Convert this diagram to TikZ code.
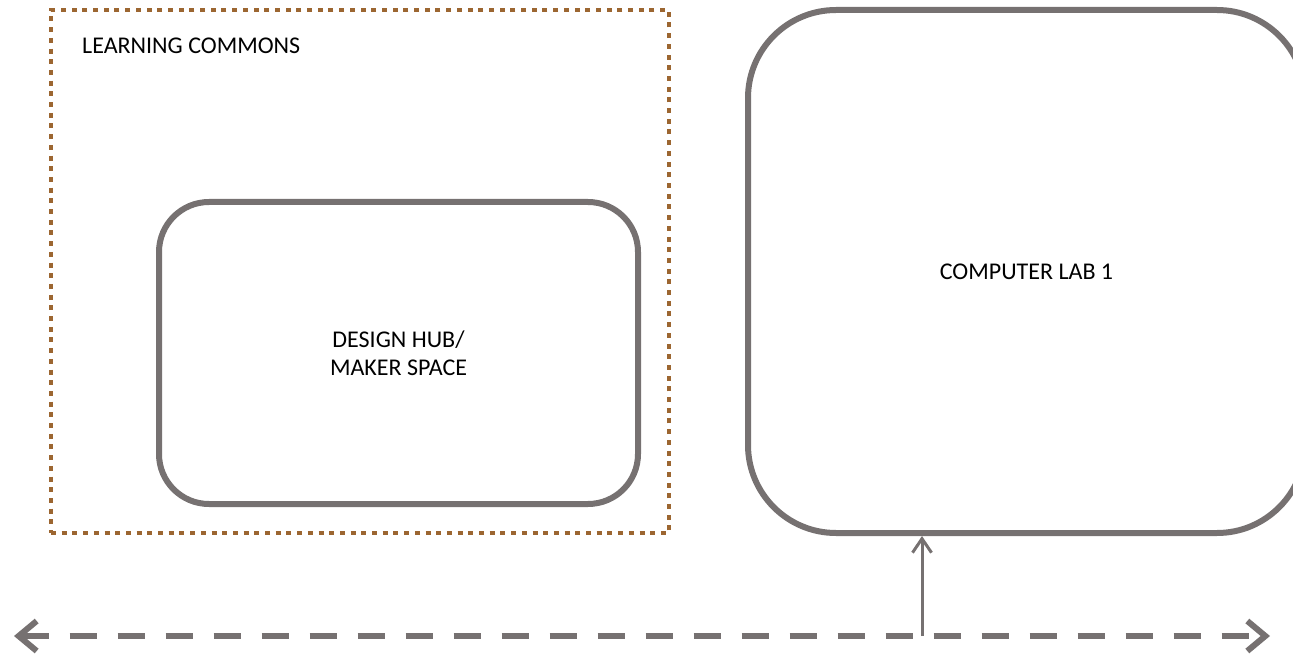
\documentclass[tikz,border=0pt]{standalone}
\usepackage{fontspec}
\setmainfont{Carlito}
\usetikzlibrary{arrows.meta}
\definecolor{roomgray}{HTML}{767171}
\definecolor{zonebrown}{HTML}{9C6631}
\tikzset{
  roombox/.style={draw=roomgray, line width=6pt, fill=white, align=center, inner sep=0pt, font=\fontsize{24}{28}\selectfont},
  zonebox/.style={draw=zonebrown, line width=4pt, dash pattern=on 5pt off 5.7pt, inner sep=0pt},
  lbl/.style={font=\fontsize{24}{28}\selectfont, inner sep=0pt},
  corridor/.style={draw=roomgray, line width=6pt, dash pattern=on 27pt off 21pt, {Straight Barb[length=18pt,width=30pt,line width=6pt]}-{Straight Barb[length=18pt,width=30pt,line width=6pt]}},
  access/.style={draw=roomgray, line width=3pt, -{Straight Barb[length=14pt,width=19pt,line width=3pt]}}
}
\begin{document}
\begin{tikzpicture}[x=1pt,y=-1pt]
\useasboundingbox (0,0) rectangle (1293,655);
\node[zonebox, minimum width=618, minimum height=523] (commons) at (360,271.5) {};
\node[lbl, anchor=west] (commonslbl) at (82,46) {LEARNING COMMONS};
\node[roombox, minimum width=479, minimum height=302, rounded corners=50pt] (hub) at (398.5,353) {DESIGN HUB/\\MAKER SPACE};
\node[roombox, minimum width=557, minimum height=523, rounded corners=88pt] (lab) at (1026.5,271.5) {COMPUTER LAB 1};
\coordinate (cl) at (14,636);
\coordinate (cr) at (1270,636);
\coordinate (cj) at (922,636);
\draw[corridor] (cl) -- (cr);
\draw[access] (cj) -- (cj |- lab.south);
\end{tikzpicture}
\end{document}
